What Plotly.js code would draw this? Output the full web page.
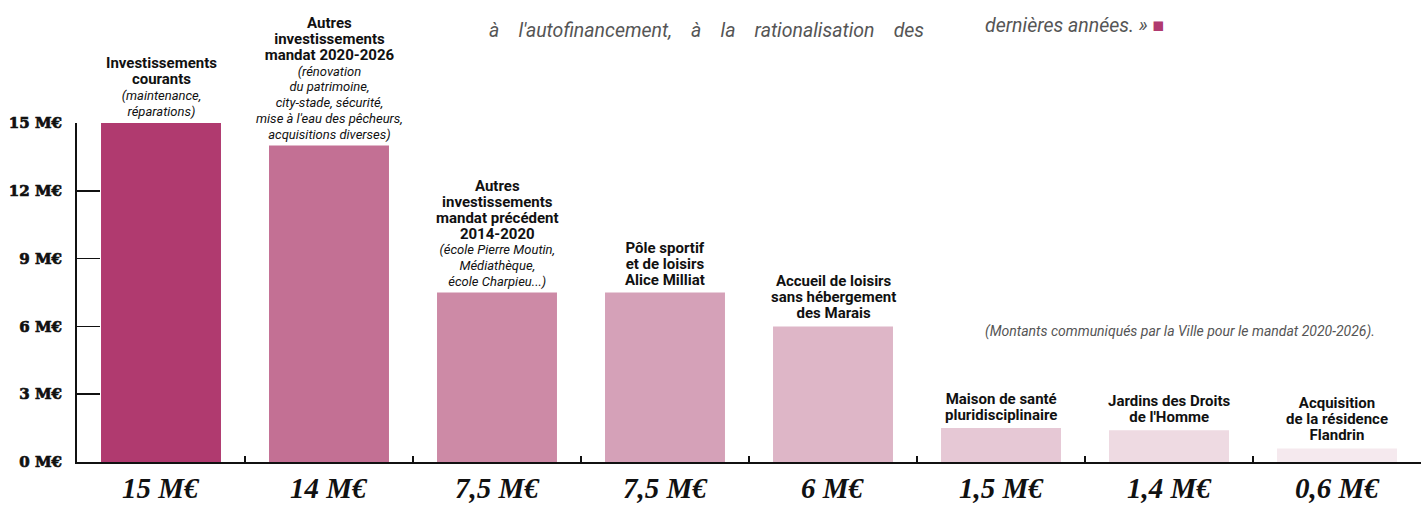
<!DOCTYPE html>
<html><head><meta charset="utf-8">
<script src="https://cdn.plot.ly/plotly-3.0.1.min.js"></script>
<style>html,body{margin:0;padding:0;background:#fff;}#chart{width:1424px;height:505px;}</style>
</head><body><div id="chart"></div>
<script>
// ---- data ----
const categories = ["Investissements courants", "Autres investissements mandat 2020-2026", "Autres investissements mandat précédent 2014-2020", "Pôle sportif et de loisirs Alice Milliat", "Accueil de loisirs sans hébergement des Marais", "Maison de santé pluridisciplinaire", "Jardins des Droits de l'Homme", "Acquisition de la résidence Flandrin"];
const values = [15, 14, 7.5, 7.5, 6, 1.5, 1.4, 0.6];
const valueLabels = ["15 M€", "14 M€", "7,5 M€", "7,5 M€", "6 M€", "1,5 M€", "1,4 M€", "0,6 M€"];
const titleLines = [["Investissements","courants"],["Autres","investissements","mandat 2020-2026"],["Autres","investissements","mandat précédent","2014-2020"],["Pôle sportif","et de loisirs","Alice Milliat"],["Accueil de loisirs","sans hébergement","des Marais"],["Maison de santé","pluridisciplinaire"],["Jardins des Droits","de l'Homme"],["Acquisition","de la résidence","Flandrin"]];
const detailLines = [["(maintenance,","réparations)"],["(rénovation","du patrimoine,","city-stade, sécurité,","mise à l'eau des pêcheurs,","acquisitions diverses)"],["(école Pierre Moutin,","Médiathèque,","école Charpieu...)"],[],[],[],[],[]];
const yTickVals = [0, 3, 6, 9, 12, 15];
const yTickText = ["0 M€", "3 M€", "6 M€", "9 M€", "12 M€", "15 M€"];
const barColors = ["#b03a6f", "#c37094", "#cd8aa6", "#d5a1b8", "#deb6c7", "#e6c8d5", "#eedae2", "#f5e9ee"];
const noteText = "(Montants communiqués par la Ville pour le mandat 2020-2026).";
const introLine = "à l'autofinancement, à la rationalisation des";
const introEnd = "dernières années. »";

const narrow = "'Liberation Sans Narrow', 'Arial Narrow', Roboto, sans-serif";

const annotations = [];
categories.forEach((c, i) => {
  const bold = titleLines[i].map(l => '<span style="font-size:15px;font-weight:bold">' + l + '</span>');
  const ital = detailLines[i].map(l => '<span style="font-size:13px;font-style:italic">' + l + '</span>');
  annotations.push({
    x: c, y: values[i], xref: 'x', yref: 'y', xanchor: 'center', yanchor: 'bottom', yshift: 2,
    text: bold.concat(ital).join('<br>'), showarrow: false, align: 'center',
    font: {family: narrow, size: 12.2, color: '#111'}
  });
  annotations.push({
    x: c, y: 0, xref: 'x', yref: 'paper', xanchor: 'center', yanchor: 'top', yshift: -8,
    text: '<b><i>' + valueLabels[i] + '</i></b>', showarrow: false,
    font: {family: "'Liberation Serif', serif", size: 29, color: '#111'}
  });
});
annotations.push({x: 0.674, y: 0.386, xref: 'paper', yref: 'paper', xanchor: 'left', yanchor: 'middle', showarrow: false,
  text: '<i>' + noteText + '</i>', font: {family: narrow, size: 14, color: '#555'}});
annotations.push({x: 0.305, y: 1.272, xref: 'paper', yref: 'paper', xanchor: 'left', yanchor: 'middle', showarrow: false,
  text: '<i>' + introLine.split(' ').join('&nbsp;&nbsp;&nbsp;&nbsp;') + '</i>', font: {family: narrow, size: 19.5, color: '#555'}});
annotations.push({x: 0.674, y: 1.287, xref: 'paper', yref: 'paper', xanchor: 'left', yanchor: 'middle', showarrow: false,
  text: '<i>' + introEnd + '</i> <span style="color:#b03a6f">■</span>', font: {family: narrow, size: 19.5, color: '#555'}});

const trace = {
  type: 'bar', x: categories, y: values, width: 0.714,
  marker: {color: barColors, line: {width: 0}}, hoverinfo: 'skip'
};

const layout = {
  width: 1424, height: 505,
  margin: {l: 77, r: 3, t: 123, b: 43},
  paper_bgcolor: '#fff', plot_bgcolor: '#fff',
  showlegend: false,
  xaxis: {
    type: 'category', range: [-0.5, 7.5], showgrid: false, zeroline: false,
    showline: true, linecolor: '#111', linewidth: 2,
    ticks: 'inside', tickson: 'boundaries', ticklen: 6, tickcolor: '#111', tickwidth: 2,
    showticklabels: false, fixedrange: true
  },
  yaxis: {
    range: [0, 15], showgrid: false, zeroline: false,
    showline: true, linecolor: '#111', linewidth: 2,
    ticks: 'inside', ticklen: 23, tickcolor: '#111', tickwidth: 1.5,
    tickvals: yTickVals, ticktext: yTickText.map(t => '<b><span style="stroke:#111;stroke-width:0.7px">' + t + '</span></b>'), ticklabelstandoff: 10,
    tickfont: {family: "'DejaVu Serif', serif", size: 15, color: '#111'},
    fixedrange: true
  },
  annotations: annotations
};

Plotly.newPlot('chart', [trace], layout, {displayModeBar: false, staticPlot: true});
</script>
</body></html>
